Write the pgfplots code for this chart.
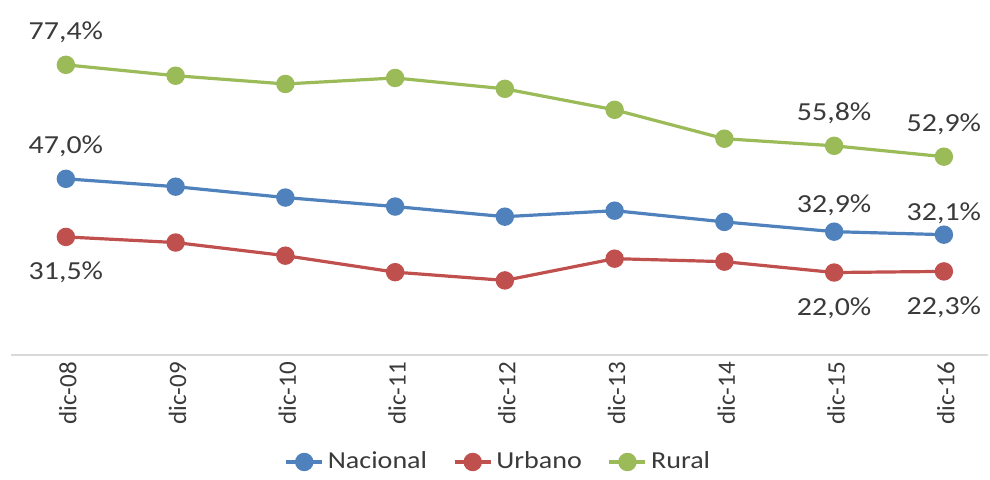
\documentclass[border=0pt]{standalone}
\usepackage{fontspec}
\setmainfont{Carlito}[FakeStretch=1.15]
\newfontfamily\tickfont{Carlito}
\usepackage{pgfplots}
\pgfplotsset{compat=1.18}
\usepackage{pgfplotstable}

\definecolor{cNac}{HTML}{4F81BD}
\definecolor{cUrb}{HTML}{C0504D}
\definecolor{cRur}{HTML}{9BBB59}
\definecolor{txt}{HTML}{3A3A3A}

% series values (%), x = 0 .. 8 -> dic-08 .. dic-16
\pgfplotstableread{
x  nacional urbano rural
0  47.0     31.5   77.4
1  44.9     30.0   74.5
2  42.0     26.5   72.3
3  39.6     22.1   73.9
4  36.9     19.9   71.0
5  38.5     25.7   65.4
6  35.5     24.9   57.7
7  32.9     22.0   55.8
8  32.1     22.3   52.9
}\datos

\pgfplotsset{
  lbl/.style={
    draw=none, mark=none, forget plot,
    point meta=y,
    visualization depends on={\thisrow{dy} \as \dy},
    nodes near coords={\pgfmathprintnumber[fixed,fixed zerofill,precision=1,use comma,assume math mode=true]{\pgfplotspointmeta}\%},
    every node near coord/.append style={anchor=center, yshift=\dy pt, font=\fontsize{13}{15}\selectfont, text=txt, inner sep=0pt},
  },
  serie/.style={color=#1, line width=1.6pt, mark=*, mark size=3.8pt, mark options={fill=#1, draw=#1}},
}

\begin{document}
\begin{tikzpicture}
\begin{axis}[
  at={(0,0)}, anchor=south west,
  scale only axis,
  width=488.4pt, height=168.7pt,
  xmin=-0.5, xmax=8.4,
  ymin=0, ymax=90,
  axis x line*=bottom,
  axis y line=none,
  axis line style={color=black!15, line width=0.8pt},
  xtick={0,...,8},
  xticklabels={dic-08,dic-09,dic-10,dic-11,dic-12,dic-13,dic-14,dic-15,dic-16},
  major tick length=0pt,
  xticklabel style={rotate=90, anchor=east, font=\tickfont\fontsize{12.5}{14}\selectfont, text=txt, yshift=-1pt},
  clip=false,
  legend columns=-1,
  legend style={at={(0.5,0)}, anchor=center, yshift=-53.5pt, draw=none, fill=none,
    font=\fontsize{12.2}{14}\selectfont, text=txt,
    /tikz/every even column/.append style={column sep=11pt}},
  legend image code/.code={
    \draw[#1, mark repeat=2, mark phase=2] plot coordinates {(0pt,0pt) (9pt,0pt) (18pt,0pt)};},
]
\addplot[serie=cNac] table[x=x, y=nacional] {\datos};
\addlegendentry{Nacional}
\addplot[serie=cUrb] table[x=x, y=urbano] {\datos};
\addlegendentry{Urbano}
\addplot[serie=cRur] table[x=x, y=rural] {\datos};
\addlegendentry{Rural}

% data labels
\addplot[lbl] table {
x y dy
0 47.0 16.5
7 32.9 13
8 32.1 10.5
};
\addplot[lbl] table {
x y dy
0 31.5 -17.5
7 22.0 -18
8 22.3 -18
};
\addplot[lbl] table {
x y dy
0 77.4 16.5
7 55.8 16.5
8 52.9 16
};
\end{axis}
\path[use as bounding box] (-5.5pt,-59pt) rectangle (489.5pt,177.5pt);
\end{tikzpicture}
\end{document}
